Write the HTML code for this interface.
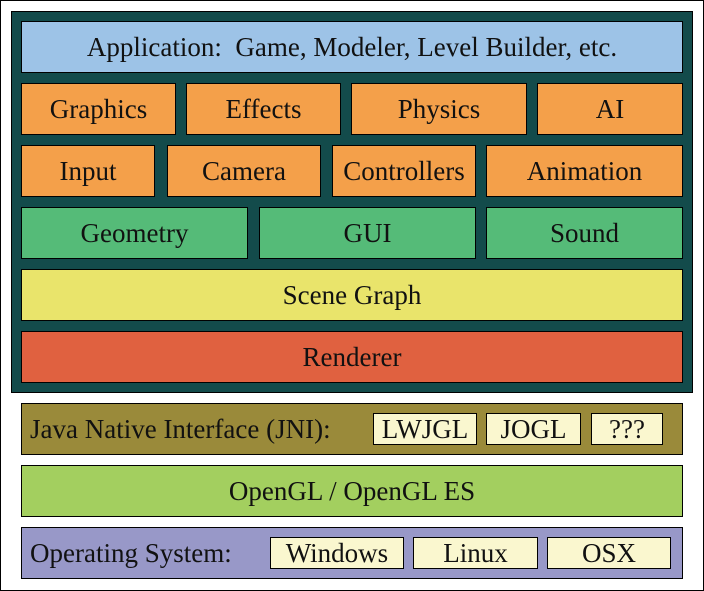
<!DOCTYPE html>
<html><head><meta charset="utf-8"><style>
body{margin:0;width:704px;height:591px;position:relative;background:#fff;font-family:"Liberation Serif",serif;overflow:hidden}
.b{position:absolute;box-sizing:border-box;border:1.5px solid #000;display:flex;align-items:center;justify-content:center;font-size:27px;color:#111;white-space:nowrap}
.o{background:#f4a04a}.g{background:#55bb78}.c{background:#faf7cf}
</style></head><body>
<div class="b" style="left:0;top:0;width:704px;height:591px;border-width:1.5px;background:#fff"></div>
<div class="b" style="left:11px;top:11px;width:682px;height:382px;background:#134b4b"></div>
<div class="b" style="left:21px;top:21px;width:662px;height:52px;background:#9dc3e7">Application:&nbsp; Game, Modeler, Level Builder, etc.</div>
<div class="b o" style="left:21px;top:83px;width:155px;height:52px">Graphics</div>
<div class="b o" style="left:186px;top:83px;width:155px;height:52px">Effects</div>
<div class="b o" style="left:351px;top:83px;width:176px;height:52px">Physics</div>
<div class="b o" style="left:537px;top:83px;width:146px;height:52px">AI</div>
<div class="b o" style="left:21px;top:145px;width:134px;height:52px">Input</div>
<div class="b o" style="left:167px;top:145px;width:154px;height:52px">Camera</div>
<div class="b o" style="left:332px;top:145px;width:144px;height:52px">Controllers</div>
<div class="b o" style="left:486px;top:145px;width:197px;height:52px">Animation</div>
<div class="b g" style="left:21px;top:207px;width:227px;height:52px">Geometry</div>
<div class="b g" style="left:259px;top:207px;width:217px;height:52px">GUI</div>
<div class="b g" style="left:486px;top:207px;width:197px;height:52px">Sound</div>
<div class="b" style="left:21px;top:269px;width:662px;height:52px;background:#e9e46b">Scene Graph</div>
<div class="b" style="left:21px;top:331px;width:662px;height:52px;background:#e06140">Renderer</div>
<div class="b" style="left:21px;top:403px;width:662px;height:52px;background:#9a8a3a;justify-content:flex-start;padding-left:8px">Java Native Interface (JNI):</div>
<div class="b c" style="left:373px;top:413px;width:104px;height:32px">LWJGL</div>
<div class="b c" style="left:486px;top:413px;width:95px;height:32px">JOGL</div>
<div class="b c" style="left:591px;top:413px;width:72px;height:32px">???</div>
<div class="b" style="left:21px;top:465px;width:662px;height:52px;background:#a3cf5f">OpenGL / OpenGL ES</div>
<div class="b" style="left:21px;top:527px;width:662px;height:52px;background:#9898c8;justify-content:flex-start;padding-left:8px">Operating System:</div>
<div class="b c" style="left:270px;top:537px;width:134px;height:32px">Windows</div>
<div class="b c" style="left:413px;top:537px;width:125px;height:32px">Linux</div>
<div class="b c" style="left:547px;top:537px;width:124px;height:32px">OSX</div>
</body></html>
